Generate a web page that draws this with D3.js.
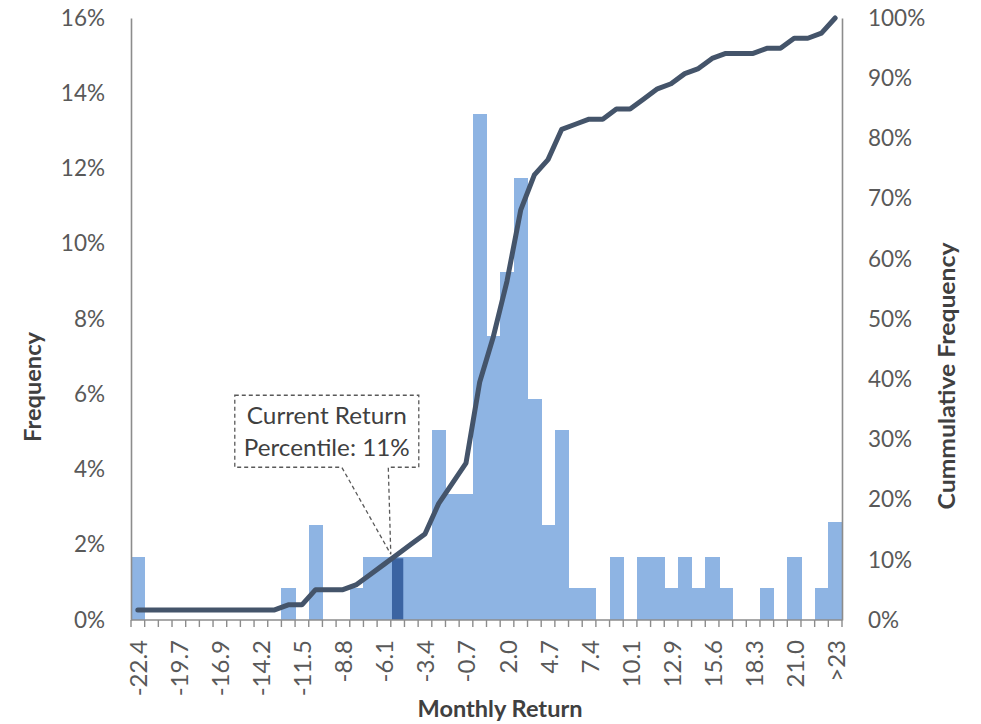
<!DOCTYPE html>
<html>
<head>
<meta charset="utf-8">
<script src="https://cdn.jsdelivr.net/npm/d3@7/dist/d3.min.js"></script>
<style>
  body { margin: 0; background: #fff; }
  svg { display: block; font-family: Lato, "Noto Sans", sans-serif; }
</style>
</head>
<body>
<svg id="chart" width="981" height="724"></svg>
<script>
// Histogram bins of monthly return (bin centres, %)
const binLabels = [
  "-22.4", "-21.5", "-20.6", "-19.7", "-18.8", "-17.9", "-16.9", "-16.0", "-15.1", "-14.2",
  "-13.3", "-12.4", "-11.5", "-10.6", "-9.7", "-8.8", "-7.9", "-7.0", "-6.1", "-5.2",
  "-4.3", "-3.4", "-2.5", "-1.6", "-0.7", "0.2", "1.1", "2.0", "2.9", "3.8",
  "4.7", "5.6", "6.5", "7.4", "8.3", "9.2", "10.1", "11.0", "11.9", "12.9",
  "13.8", "14.7", "15.6", "16.5", "17.4", "18.3", "19.2", "20.1", "21.0", "21.9",
  "22.8", ">23"
];

// Share of months falling in each bin (%)
const frequency = [
  1.68, 0, 0, 0, 0, 0, 0, 0, 0, 0,
  0, 0.84, 0, 2.52, 0, 0, 0.84, 1.68, 1.68, 1.68,
  1.68, 1.68, 5.04, 3.36, 3.36, 13.45, 7.56, 9.24, 11.76, 5.88,
  2.52, 5.04, 0.84, 0.84, 0, 1.68, 0, 1.68, 1.68, 0.84,
  1.68, 0.84, 1.68, 0.84, 0, 0, 0.84, 0, 1.68, 0,
  0.84, 2.6
];

// Running share of months at or below each bin (%)
const cumulative = [
  1.68, 1.68, 1.68, 1.68, 1.68, 1.68, 1.68, 1.68, 1.68, 1.68,
  1.68, 2.52, 2.52, 5.04, 5.04, 5.04, 5.88, 7.56, 9.24, 10.92,
  12.61, 14.29, 19.33, 22.69, 26.05, 39.5, 47.06, 56.3, 68.07, 73.95,
  76.47, 81.51, 82.35, 83.19, 83.19, 84.87, 84.87, 86.55, 88.24, 89.08,
  90.76, 91.6, 93.28, 94.12, 94.12, 94.12, 94.96, 94.96, 96.64, 96.64,
  97.48, 100
];

const leftTicks = [0, 2, 4, 6, 8, 10, 12, 14, 16];
const rightTicks = [0, 10, 20, 30, 40, 50, 60, 70, 80, 90, 100];

// Bin holding the latest monthly return and its percentile
const currentBin = 19;
const currentPercentile = 11;

const svg = d3.select("#chart");
const plot = { left: 131, right: 842, top: 18, bottom: 620 };

const x = d3.scaleBand()
  .domain(d3.range(binLabels.length))
  .range([plot.left, plot.right])
  .paddingInner(0).paddingOuter(0);

const yL = d3.scaleLinear().domain([0, 16]).range([plot.bottom, plot.top]);
const yR = d3.scaleLinear().domain([0, 100]).range([plot.bottom, plot.top]);

const tickColor = "#595959";
const titleColor = "#404040";
const axisColor = "#8c8c8c";

// Frequency bars (slight overlap so neighbouring bins read as one block)
svg.append("g")
  .attr("shape-rendering", "crispEdges")
  .selectAll("rect")
  .data(frequency.map((v, i) => ({ v, i })).filter(d => d.v > 0))
  .join("rect")
  .attr("x", d => x(d.i))
  .attr("width", d => d.i === binLabels.length - 1 ? x.bandwidth() : x.bandwidth() + 0.6)
  .attr("y", d => yL(d.v))
  .attr("height", d => yL(0) - yL(d.v))
  .attr("fill", "#8eb4e3");

// Highlighted bar for the current return
svg.append("rect")
  .attr("x", x(currentBin) + 1.2)
  .attr("width", x.bandwidth() - 2.4)
  .attr("y", yL(frequency[currentBin]) + 1.5)
  .attr("height", yL(0) - yL(frequency[currentBin]) - 1.5)
  .attr("fill", "#3b64a2");

// Left axis (frequency)
const leftAxis = svg.append("g")
  .attr("transform", `translate(${plot.left},0)`)
  .call(d3.axisLeft(yL).tickValues(leftTicks).tickSize(0).tickPadding(26)
    .tickFormat(d => d + "%"));
leftAxis.select(".domain").attr("stroke", axisColor).attr("stroke-width", 1.6);
leftAxis.selectAll("text").attr("fill", tickColor).attr("font-size", 22.5)
  .attr("font-family", "Lato, sans-serif");

// Right axis (cumulative frequency)
const rightAxis = svg.append("g")
  .attr("transform", `translate(${plot.right},0)`)
  .call(d3.axisRight(yR).tickValues(rightTicks).tickSize(0).tickPadding(26)
    .tickFormat(d => d + "%"));
rightAxis.select(".domain").attr("stroke", axisColor).attr("stroke-width", 1.6);
rightAxis.selectAll("text").attr("fill", tickColor).attr("font-size", 22.5)
  .attr("font-family", "Lato, sans-serif");

// Bottom axis: tick marks on bin edges, labels on every third bin
const edges = d3.range(binLabels.length + 1).map(i =>
  i < binLabels.length ? x(i) : x(binLabels.length - 1) + x.bandwidth());
const bottom = svg.append("g");
bottom.append("line")
  .attr("x1", plot.left).attr("x2", plot.right)
  .attr("y1", plot.bottom).attr("y2", plot.bottom)
  .attr("stroke", axisColor).attr("stroke-width", 1.6);
bottom.selectAll("line.tick")
  .data(edges)
  .join("line")
  .attr("class", "tick")
  .attr("x1", d => d).attr("x2", d => d)
  .attr("y1", plot.bottom).attr("y2", plot.bottom + 7)
  .attr("stroke", axisColor).attr("stroke-width", 1.4);
bottom.selectAll("text")
  .data(d3.range(0, binLabels.length, 3))
  .join("text")
  .attr("transform", i => `translate(${x(i) + x.bandwidth() / 2},${plot.bottom + 20}) rotate(-90)`)
  .attr("text-anchor", "end")
  .attr("dominant-baseline", "central")
  .attr("fill", tickColor)
  .attr("font-size", 24)
  .text(i => binLabels[i]);

// Cumulative frequency line through bin centres
const line = d3.line()
  .x((d, i) => x(i) + x.bandwidth() / 2)
  .y(d => yR(d));
svg.append("path")
  .datum(cumulative)
  .attr("d", line)
  .attr("fill", "none")
  .attr("stroke", "#44546a")
  .attr("stroke-width", 5)
  .attr("stroke-linejoin", "round")
  .attr("stroke-linecap", "round");

// Callout pointing at the current bin on the cumulative curve
const ax = x(currentBin);
const ay = yR(cumulative[currentBin]);
const box = { left: ax - 156, right: ax + 28, top: ay - 159, bottom: ay - 87 };
svg.append("path")
  .attr("d", `M${box.left},${box.top}H${box.right}V${box.bottom}H${ax - 2.5}` +
             `L${ax},${ay}L${ax - 49},${box.bottom}H${box.left}Z`)
  .attr("fill", "none")
  .attr("stroke", "#595959")
  .attr("stroke-width", 1.3)
  .attr("stroke-dasharray", "4,3");
const callout = svg.append("text")
  .attr("fill", titleColor)
  .attr("font-size", 23.5)
  .attr("text-anchor", "middle");
callout.append("tspan")
  .attr("x", (box.left + box.right) / 2).attr("y", box.top + 29)
  .attr("textLength", 160).attr("lengthAdjust", "spacingAndGlyphs")
  .text("Current Return");
callout.append("tspan")
  .attr("x", (box.left + box.right) / 2).attr("y", box.top + 61)
  .attr("textLength", 166).attr("lengthAdjust", "spacingAndGlyphs")
  .text(`Percentile: ${currentPercentile}%`);

// Axis titles
svg.append("text")
  .attr("x", 500).attr("y", 717)
  .attr("text-anchor", "middle")
  .attr("font-weight", "bold").attr("font-size", 23).attr("fill", titleColor)
  .attr("textLength", 165).attr("lengthAdjust", "spacingAndGlyphs")
  .text("Monthly Return");
svg.append("text")
  .attr("transform", `translate(41,387) rotate(-90)`)
  .attr("text-anchor", "middle")
  .attr("font-weight", "bold").attr("font-size", 23).attr("fill", titleColor)
  .attr("textLength", 110).attr("lengthAdjust", "spacingAndGlyphs")
  .text("Frequency");
svg.append("text")
  .attr("transform", `translate(955,376) rotate(-90)`)
  .attr("text-anchor", "middle")
  .attr("font-weight", "bold").attr("font-size", 23).attr("fill", titleColor)
  .attr("textLength", 267).attr("lengthAdjust", "spacingAndGlyphs")
  .text("Cummulative Frequency");
</script>
</body>
</html>
